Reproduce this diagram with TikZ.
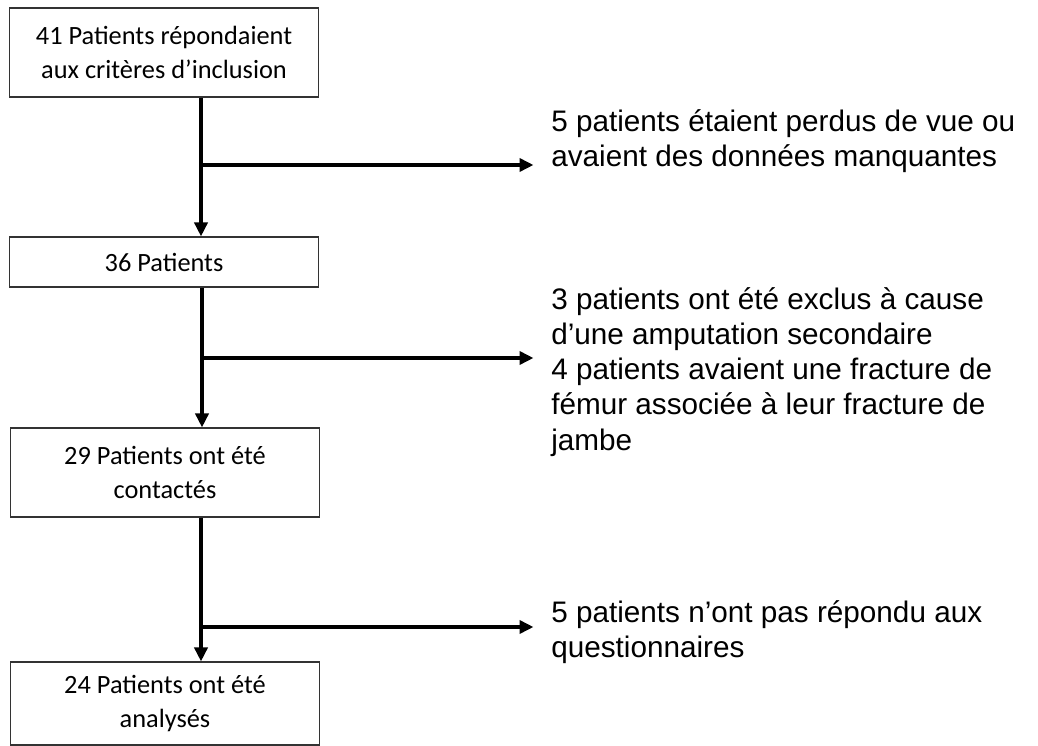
\documentclass[tikz,border=0pt]{standalone}
\usepackage{fontspec}
\newfontfamily\boxfont{Carlito}
\newfontfamily\notefont{Liberation Sans}
\usetikzlibrary{arrows.meta}
\begin{document}
\begin{tikzpicture}[
	x=0.02cm, y=-0.02cm,
	stage/.style={draw=black!80, line width=0.6pt, rectangle, minimum width=6.2cm, inner sep=2pt, align=center, font=\boxfont\fontsize{15}{19.5}\selectfont},
	note/.style={anchor=west, align=left, inner sep=0pt, font=\notefont\fontsize{16.9}{20}\selectfont},
	flow/.style={-{Triangle[length=2.8mm,width=2.6mm]}, line width=2pt},
	]
	\useasboundingbox (0,0) rectangle (1038,746);
	
	%-----------------------
	% Column of stages
	%-----------------------
	\node[stage, minimum height=1.78cm] (S1) at (164,52.5) {41 Patients répondaient\\aux critères d’inclusion};
	\node[stage, minimum height=1cm] (S2) at (164,262) {36 Patients};
	\node[stage, minimum height=1.78cm] (S3) at (165,472.5) {29 Patients ont été\\contactés};
	\node[stage, minimum height=1.66cm] (S4) at (165,703.5) {24 Patients ont été\\analysés};
	
	%-----------------------
	% Exclusion notes
	%-----------------------
	\node[note] (N1) at (551,141) {5 patients étaient perdus de vue ou\\avaient des données manquantes};
	\node[note] (N2) at (551,372) {3 patients ont été exclus à cause\\d’une amputation secondaire\\4 patients avaient une fracture de\\fémur associée à leur fracture de\\jambe};
	\node[note] (N3) at (551,632) {5 patients n’ont pas répondu aux\\questionnaires};
	
	%-----------------------
	% Branch points
	%-----------------------
	\coordinate (J1) at (201,165);
	\coordinate (J2) at (202,358);
	\coordinate (J3) at (201,627);
	
	% Stage -> stage
	\draw[flow] (J1 |- S1.south) -- (J1 |- S2.north);
	\draw[flow] (J2 |- S2.south) -- (J2 |- S3.north);
	\draw[flow] (J3 |- S3.south) -- (J3 |- S4.north);
	
	% Branch -> note
	\draw[flow, shorten >=3.5mm] (J1) -- (N1.west |- J1);
	\draw[flow, shorten >=3.5mm] (J2) -- (N2.west |- J2);
	\draw[flow, shorten >=3.5mm] (J3) -- (N3.west |- J3);
	
\end{tikzpicture}
\end{document}
